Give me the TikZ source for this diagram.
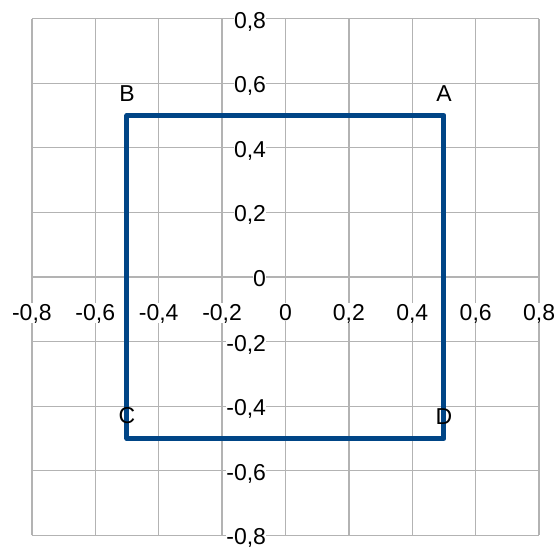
\documentclass[tikz,border=0pt]{standalone}
\usepackage{fontspec}
\setmainfont{Liberation Sans}
\usepackage{xcolor}
\usepackage{tikz}
\usetikzlibrary{positioning,calc}

\definecolor{chartblue}{HTML}{004586}
\definecolor{gridgray}{HTML}{B3B3B3}

\begin{document}
\begin{tikzpicture}[x=317pt,y=323pt]
            \tikzset{
                gridline/.style={
                    gridgray,
                    line width=1.3pt
                }
            }
            \tikzset{
                ticklabel/.style={
                    fill=white,
                    inner sep=0.5pt,
                    font=\fontsize{23}{27}\selectfont
                }
            }
            \tikzset{
                pointlabel/.style={
                    inner sep=0pt,
                    font=\fontsize{23}{27}\selectfont
                }
            }
            \tikzset{
                square/.style={
                    chartblue,
                    line width=5pt,
                    line join=round
                }
            }

            \useasboundingbox (-285.5pt,-270pt) rectangle (269.5pt,277pt);

            % grid
            \foreach \i in {-4,...,4} {
                \draw[gridline] (\i*0.2,-0.8) -- (\i*0.2,0.8);
                \draw[gridline] (-0.8,\i*0.2) -- (0.8,\i*0.2);
            }

            % axis values
            \foreach \v/\t [count=\i] in {-0.8/{-0,8},-0.6/{-0,6},-0.4/{-0,4},-0.2/{-0,2},0/{0},0.2/{0,2},0.4/{0,4},0.6/{0,6},0.8/{0,8}} {
                \node[ticklabel,anchor=base] (xval\i) at ([yshift=-43pt]\v,0) {\t};
                \node[ticklabel,anchor=base east] (yval\i) at ([xshift=-18.8pt,yshift=-9.5pt]0,\v) {\t};
            }

            \coordinate (A) at (0.5,0.5);
            \coordinate (B) at (-0.5,0.5);
            \coordinate (C) at (-0.5,-0.5);
            \coordinate (D) at (0.5,-0.5);

            \draw[square] (A) -- (B) -- (C) -- (D) -- cycle;

            \node[pointlabel,above=13.8pt of A] (lblA) {A};
            \node[pointlabel,above=13.8pt of B] (lblB) {B};
            \node[pointlabel,above=14.2pt of C] (lblC) {C};
            \node[pointlabel,above=14.2pt of D] (lblD) {D};
\end{tikzpicture}
\end{document}
